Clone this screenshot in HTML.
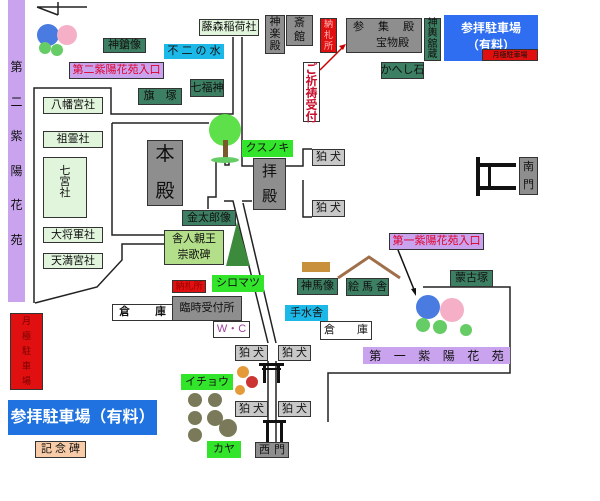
<!DOCTYPE html><html><head><meta charset="utf-8"><style>
body{margin:0;width:600px;height:501px;background:#fff;position:relative;overflow:hidden;font-family:"Liberation Sans","Noto Sans CJK JP",sans-serif}
.b{position:absolute;box-sizing:border-box;border:1.5px solid #333;display:flex;align-items:center;justify-content:center;font-size:11px;color:#111;white-space:nowrap;line-height:1}
.dg{background:#3d7f62;color:#111}.gr{background:#8e8e8e}.lg{background:#e1f4dc}.bg{background:#33e52a;color:#111;border-color:#33e52a}
.v{flex-direction:column;text-align:center}
svg{position:absolute;left:0;top:0}
</style></head><body>
<svg width="600" height="501">
<g stroke="#222" stroke-width="1.5" fill="none">
<path d="M37 7H87M58 2V15M37 7L58 15"/>
<path d="M34 303V88H111V114H233V37M242 37V166H253"/>
<path d="M112 123H209M112 123V235H164M216 160V197H208V209"/>
<path d="M164 244H122V260L97 287L35 303"/>
<path d="M224 201H233L268 343M242 201H252M243 203L276 343"/>
<path d="M286 166H303V149H312M303 180V217H312"/>
<path d="M268 361V445M276 361V445"/>
<path d="M423 287H510V373H328V422"/>
<path d="M225 160H229V165H225Z"/>
</g>
<path d="M320 70L344 46" stroke="#c00" stroke-width="1.5"/><path d="M346 44l-7 2 4 4z" fill="#c00"/>
<path d="M398 250L415 292" stroke="#111" stroke-width="1.5"/><path d="M416 296l-5-7 5-1z" fill="#111"/>
<g fill="#111"><rect x="476" y="157" width="4" height="39"/><rect x="476" y="163" width="40" height="4"/><rect x="476" y="186" width="40" height="4"/><rect x="488" y="163" width="3" height="27"/></g>
<g fill="#111"><rect x="259" y="363" width="25" height="3"/><rect x="262" y="368" width="19" height="2"/><rect x="263" y="363" width="3" height="20"/><rect x="277" y="363" width="3" height="20"/>
<rect x="263" y="420" width="23" height="3"/><rect x="266" y="420" width="3" height="22"/><rect x="280" y="420" width="3" height="22"/></g>
<circle cx="225" cy="130" r="16" fill="#5ee04a"/><rect x="223" y="140" width="5" height="20" fill="#7a5a2a"/><ellipse cx="225" cy="160" rx="14" ry="3" fill="#6c6"/>
<path d="M237 222L226 266H250Z" fill="#3c8a3c"/>
<circle cx="48" cy="35" r="11" fill="#4a7be0"/><circle cx="67" cy="35" r="10" fill="#f5b0c8"/><circle cx="45" cy="48" r="6" fill="#6c6"/><circle cx="57" cy="50" r="6" fill="#6c6"/>
<circle cx="428" cy="307" r="12" fill="#4a7be0"/><circle cx="452" cy="310" r="12" fill="#f5b0c8"/><circle cx="423" cy="325" r="7" fill="#6c6"/><circle cx="440" cy="327" r="7" fill="#6c6"/><circle cx="466" cy="330" r="6" fill="#6c6"/>
<path d="M302 262H330V272H302Z" fill="#c8903c"/><path d="M338 278L369 257L400 278" stroke="#a0704a" stroke-width="3" fill="none"/>
<circle cx="243" cy="372" r="6" fill="#e59a3a"/><circle cx="252" cy="382" r="6" fill="#c33"/><circle cx="240" cy="390" r="5" fill="#e59a3a"/>
<g fill="#7a7a5a"><circle cx="195" cy="400" r="7"/><circle cx="215" cy="400" r="7"/><circle cx="195" cy="418" r="7"/><circle cx="215" cy="418" r="8"/><circle cx="195" cy="435" r="7"/><circle cx="228" cy="428" r="9"/></g>
</svg>
<div class="b v" style="left:8px;top:0;width:17px;height:302px;background:#c9a3ee;border:none;justify-content:space-around;padding:50px 0 45px;font-size:12px"><span>第</span><span>二</span><span>紫</span><span>陽</span><span>花</span><span>苑</span></div>
<div class="b dg" style="left:103px;top:38px;width:43px;height:15px">神鎗像</div>
<div class="b" style="left:164px;top:44px;width:60px;height:15px;background:#1cb8e8;border-color:#1cb8e8">不 二 の 水</div>
<div class="b" style="left:69px;top:62px;width:95px;height:17px;background:#c9a3ee;color:#e0002a">第二紫陽花苑入口</div>
<div class="b dg" style="left:190px;top:79px;width:34px;height:18px">七福神</div>
<div class="b dg" style="left:138px;top:88px;width:44px;height:17px">旗　塚</div>
<div class="b lg" style="left:199px;top:19px;width:60px;height:17px">藤森稲荷社</div>
<div class="b gr v" style="left:265px;top:15px;width:20px;height:39px;justify-content:space-around"><span>神</span><span>楽</span><span>殿</span></div>
<div class="b gr v" style="left:286px;top:15px;width:27px;height:31px;justify-content:space-around"><span>斎</span><span>館</span></div>
<div class="b v" style="left:320px;top:18px;width:17px;height:35px;background:#e01010;color:#fbb;font-size:9px;justify-content:space-around"><span>納</span><span>札</span><span>所</span></div>
<div class="b gr v" style="left:346px;top:18px;width:76px;height:35px;align-items:stretch;justify-content:space-around"><span style="text-align:left;padding-left:6px;letter-spacing:14px">参集殿</span><span style="text-align:right;padding-right:12px">宝物殿</span></div>
<div class="b dg v" style="left:424px;top:18px;width:17px;height:43px;font-size:10px;justify-content:space-around"><span>神</span><span>輿</span><span>舘</span><span>蔵</span></div>
<div class="b dg" style="left:381px;top:62px;width:43px;height:17px">かへし石</div>
<div class="b v" style="left:303px;top:62px;width:17px;height:60px;background:#fff;color:#c8102e;font-weight:bold;font-size:12px;justify-content:space-around"><span>ご</span><span>祈</span><span>祷</span><span>受</span><span>付</span></div>
<div class="b v" style="left:444px;top:15px;width:94px;height:46px;background:#2f6ef0;border-color:#2f6ef0;color:#fff;font-weight:bold;font-size:12px;justify-content:flex-start;padding-top:4px;line-height:1.4"><span>参拝駐車場</span><span>（有料）</span></div>
<div class="b" style="left:482px;top:49px;width:56px;height:12px;background:#e01010;font-size:7px">月極駐車場</div>
<div class="b gr v" style="left:519px;top:157px;width:19px;height:38px;justify-content:space-around"><span>南</span><span>門</span></div>
<div class="b gr" style="left:312px;top:149px;width:33px;height:17px;background:#c8c8c8">狛 犬</div>
<div class="b gr" style="left:312px;top:200px;width:33px;height:17px;background:#c8c8c8">狛 犬</div>
<div class="b gr v" style="left:253px;top:158px;width:33px;height:52px;font-size:15px;justify-content:space-around"><span>拝</span><span>殿</span></div>
<div class="b gr v" style="left:147px;top:140px;width:36px;height:66px;font-size:19px;justify-content:space-between;padding:4px 0"><span>本</span><span>殿</span></div>
<div class="b bg" style="left:242px;top:140px;width:51px;height:17px">クスノキ</div>
<div class="b lg" style="left:43px;top:97px;width:60px;height:17px">八幡宮社</div>
<div class="b lg" style="left:43px;top:131px;width:60px;height:17px">祖霊社</div>
<div class="b lg v" style="left:43px;top:157px;width:44px;height:61px;padding:8px 0 20px;justify-content:space-between"><span>七</span><span>宮</span><span>社</span></div>
<div class="b lg" style="left:43px;top:227px;width:60px;height:16px">大将軍社</div>
<div class="b lg" style="left:43px;top:253px;width:60px;height:16px">天満宮社</div>
<div class="b dg" style="left:182px;top:210px;width:54px;height:16px">金太郎像</div>
<div class="b v" style="left:164px;top:230px;width:60px;height:35px;background:#b3df8a;justify-content:space-around"><span>舎人親王</span><span>崇歌碑</span></div>
<div class="b" style="left:172px;top:280px;width:34px;height:13px;background:#e01010;color:#900;font-size:9px">納札所</div>
<div class="b bg" style="left:212px;top:275px;width:52px;height:17px">シロマツ</div>
<div class="b" style="left:112px;top:304px;width:61px;height:17px;background:#fff;justify-content:space-between;padding:0 6px;font-weight:bold">倉<span>庫</span></div>
<div class="b gr" style="left:172px;top:296px;width:70px;height:25px">臨時受付所</div>
<div class="b" style="left:213px;top:321px;width:37px;height:17px;background:#fff;color:#a040a0">W・C</div>
<div class="b gr" style="left:235px;top:345px;width:33px;height:16px;background:#c8c8c8">狛 犬</div>
<div class="b gr" style="left:278px;top:345px;width:33px;height:16px;background:#c8c8c8">狛 犬</div>
<div class="b gr" style="left:235px;top:401px;width:33px;height:16px;background:#c8c8c8">狛 犬</div>
<div class="b gr" style="left:278px;top:401px;width:33px;height:16px;background:#c8c8c8">狛 犬</div>
<div class="b bg" style="left:181px;top:374px;width:52px;height:16px">イチョウ</div>
<div class="b bg" style="left:207px;top:441px;width:34px;height:17px">カヤ</div>
<div class="b gr" style="left:255px;top:442px;width:34px;height:16px;justify-content:space-between;padding:0 3px">西<span>門</span></div>
<div class="b v" style="left:10px;top:313px;width:33px;height:77px;background:#e01010;font-size:9px;justify-content:space-around;color:#700"><span>月</span><span>極</span><span>駐</span><span>車</span><span>場</span></div>
<div class="b" style="left:8px;top:400px;width:149px;height:35px;background:#1f72e0;border-color:#1f72e0;color:#fff;font-size:16px;font-weight:bold">参拝駐車場（有料）</div>
<div class="b" style="left:35px;top:441px;width:51px;height:17px;background:#f8cca8">記 念 碑</div>
<div class="b dg" style="left:297px;top:278px;width:41px;height:17px">神馬像</div>
<div class="b dg" style="left:346px;top:278px;width:43px;height:18px">絵 馬 舎</div>
<div class="b" style="left:285px;top:305px;width:43px;height:16px;background:#1cb8e8;border-color:#1cb8e8">手水舎</div>
<div class="b" style="left:320px;top:321px;width:52px;height:19px;background:#fff;justify-content:space-between;padding:0 3px">倉<span>庫</span></div>
<div class="b" style="left:389px;top:233px;width:95px;height:17px;background:#c9a3ee;color:#e0002a">第一紫陽花苑入口</div>
<div class="b dg" style="left:450px;top:270px;width:43px;height:17px">蒙古塚</div>
<div class="b" style="left:363px;top:347px;width:147px;height:17px;background:#c9a3ee;border:none;justify-content:space-around;font-size:12px">第<span>一</span><span>紫</span><span>陽</span><span>花</span><span>苑</span></div>
</body></html>
